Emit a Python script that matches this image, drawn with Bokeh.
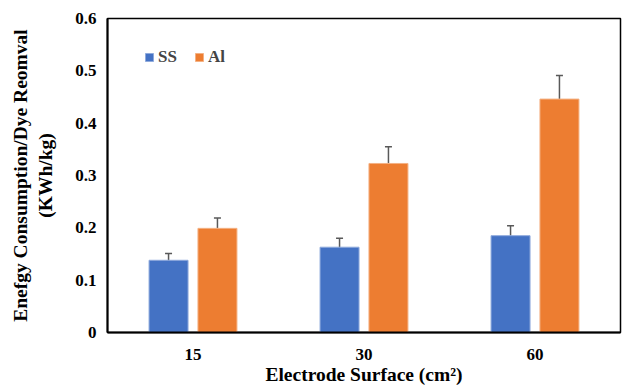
from bokeh.plotting import figure
from bokeh.models import (ColumnDataSource, FactorRange, Whisker, Legend, LegendItem,
                          FixedTicker, Range1d)
from bokeh.transform import dodge
from bokeh.embed import file_html
from bokeh.resources import INLINE

categories = ["15", "30", "60"]
ss_values = [0.138, 0.163, 0.185]
ss_errors = [0.013, 0.017, 0.019]
al_values = [0.199, 0.323, 0.446]
al_errors = [0.020, 0.032, 0.045]
y_ticks = [0, 0.1, 0.2, 0.3, 0.4, 0.5, 0.6]

src = ColumnDataSource(dict(
    x=categories,
    ss=ss_values, ss_lo=[v - e for v, e in zip(ss_values, ss_errors)],
    ss_hi=[v + e for v, e in zip(ss_values, ss_errors)],
    al=al_values, al_lo=[v - e for v, e in zip(al_values, al_errors)],
    al_hi=[v + e for v, e in zip(al_values, al_errors)],
))

FONT = "Liberation Serif"

p = figure(x_range=FactorRange(*categories, range_padding=0), y_range=Range1d(0, 0.6),
           frame_width=513, frame_height=314, width=636, height=385,
           min_border_left=107, min_border_top=18, min_border_right=16, min_border_bottom=53,
           output_backend="svg", toolbar_location=None)

off = 0.143
w = 0.228
r_ss = p.vbar(x=dodge("x", -off, range=p.x_range), top="ss", width=w, source=src,
              fill_color="#4472C4", line_color="#8FAADC", line_width=1)
r_al = p.vbar(x=dodge("x", off, range=p.x_range), top="al", width=w, source=src,
              fill_color="#ED7D31", line_color="#F4B183", line_width=1)

for col, o in (("ss", -off), ("al", off)):
    wk = Whisker(base=dodge("x", o, range=p.x_range), lower=col + "_lo", upper=col + "_hi",
                 source=src, line_color="#595959", line_width=1.5)
    wk.upper_head.size = 7
    wk.lower_head.size = 7
    wk.upper_head.line_color = "#595959"
    wk.lower_head.line_color = "#595959"
    wk.upper_head.line_width = 1.5
    wk.lower_head.line_width = 1.5
    p.add_layout(wk)

p.xgrid.grid_line_color = None
p.ygrid.grid_line_color = None
p.outline_line_color = "black"
p.outline_line_width = 1.5
p.outline_line_alpha = 1

p.yaxis.ticker = FixedTicker(ticks=y_ticks)
p.yaxis.major_label_overrides = {0: "0"}
for ax in (p.xaxis[0], p.yaxis[0]):
    ax.axis_line_color = "black"
    ax.axis_line_width = 2
    ax.major_tick_line_color = None
    ax.minor_tick_line_color = None
    ax.major_label_text_font = FONT
    ax.major_label_text_font_style = "bold"
    ax.major_label_text_font_size = "17px"
    ax.major_label_text_color = "black"
    ax.axis_label_text_font = FONT
    ax.axis_label_text_font_style = "bold"
    ax.axis_label_text_font_size = "19.5px"
    ax.axis_label_text_color = "black"

p.xaxis.major_label_standoff = 10
p.yaxis.major_label_standoff = 5
p.xaxis.axis_label = "Electrode Surface (cm²)"
p.xaxis.axis_label_standoff = 1
p.yaxis.axis_label = "Enefgy Consumption/Dye Reomval\n(KWh/kg)"
p.yaxis.axis_label_standoff = 16

legend = Legend(items=[LegendItem(label="SS", renderers=[r_ss]),
                       LegendItem(label="Al", renderers=[r_al])],
                orientation="horizontal", location=(37, 265),
                border_line_color=None, background_fill_alpha=0,
                label_text_font=FONT, label_text_font_style="bold",
                label_text_font_size="17px", glyph_width=10, glyph_height=10,
                label_standoff=4, spacing=16, padding=0, margin=0)
p.add_layout(legend)

open("out.html", "w").write(file_html(p, INLINE))
